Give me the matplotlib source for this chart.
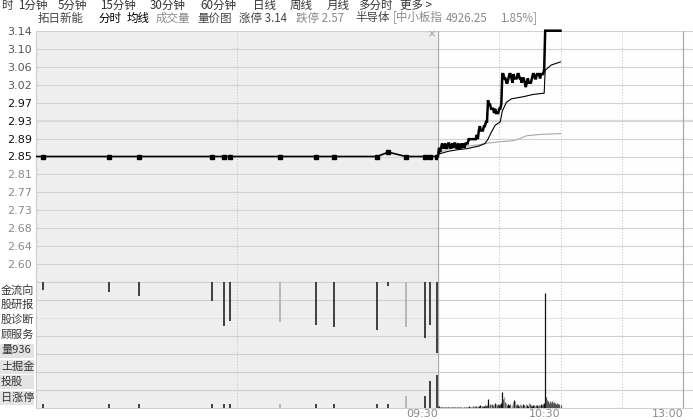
import matplotlib
matplotlib.use("Agg")
import matplotlib.pyplot as plt
from matplotlib.patches import Rectangle
import numpy as np

plt.rcParams['font.family'] = ['Noto Sans CJK SC', 'DejaVu Sans']

W, H = 693, 420  # output size in pixels

# ---------------- data ----------------
prev_close = 2.85
limit_up = 3.14
price_labels = ['3.14', '3.10', '3.06', '3.02', '2.97', '2.93', '2.89',
                '2.85', '2.81', '2.77', '2.73', '2.68', '2.64', '2.60']

# call auction 09:15-09:25 (seconds after 09:15)
auction_sec = [10, 109, 154, 263, 280, 289, 364, 418, 445, 509, 526, 552, 580, 588, 598]
auction_price = [2.85, 2.85, 2.85, 2.85, 2.85, 2.85, 2.85, 2.85, 2.85, 2.85,
                 2.86, 2.85, 2.85, 2.85, 2.85]
auction_unmatched = [7.7, 10, 14, 19, 44, 39, 40, 43, 45, 48, 4, 45, 56, 43, 71]
auction_matched = [4, 4, 4, 4, 4, 4, 4, 4, 4, 4, 4, 12, 12, 27, 33]
auction_buy = [1, 1, 1, 1, 1, 1, 0, 1, 1, 1, 1, 0, 1, 1, 1]

# continuous trading, one value per minute from 09:30
price = [
    2.85, 2.87, 2.86, 2.87, 2.88, 2.87, 2.87, 2.88, 2.87, 2.87,
    2.88, 2.88, 2.87, 2.87, 2.88, 2.87, 2.88, 2.88, 2.87, 2.87,
    2.88, 2.87, 2.87, 2.88, 2.87, 2.88, 2.87, 2.88, 2.88, 2.88,
    2.89, 2.89, 2.89, 2.89, 2.89, 2.89, 2.89, 2.89, 2.90, 2.89,
    2.91, 2.92, 2.91, 2.91, 2.91, 2.92, 2.92, 2.93, 2.93, 2.98,
    2.97, 2.97, 2.96, 2.96, 2.96, 2.95, 2.96, 2.95, 2.95, 2.95,
    2.96, 2.96, 2.97, 3.04, 3.04, 3.03, 3.03, 3.02, 3.02, 3.03,
    3.04, 3.04, 3.03, 3.02, 3.04, 3.03, 3.03, 3.03, 3.04, 3.04,
    3.03, 3.03, 3.02, 3.03, 3.03, 3.02, 3.01, 3.02, 3.03, 3.02,
    3.02, 3.02, 3.03, 3.04, 3.04, 3.03, 3.03, 3.04, 3.04, 3.04,
    3.03, 3.04, 3.04, 3.04, 3.05, 3.14, 3.14, 3.14, 3.14, 3.14,
    3.14, 3.14, 3.14, 3.14, 3.14, 3.14, 3.14, 3.14, 3.14, 3.14,
    3.14,
]
volume = [
    2, 2, 1.5, 1.5, 1, 1.5, 1, 1, 1.5, 1,
    1, 1, 1, 1, 1, 1, 1, 1, 1, 1,
    1, 1, 1, 1.5, 1, 1, 1.5, 1, 1, 1.5,
    2, 1.5, 1, 1.5, 2, 1.5, 2, 2.5, 1.5, 2,
    2, 3, 2, 2.5, 2, 2, 3, 2.5, 3, 9,
    3, 4, 3.5, 4, 3, 3.5, 5, 4, 3, 4,
    3, 4.5, 5, 16, 9, 11, 6, 5, 3, 4,
    3.5, 4, 3, 6, 7.7, 6.7, 2.7, 4, 3, 2.5,
    4, 3, 2.5, 4, 3.3, 2, 4.3, 3, 2, 5.3,
    4, 3, 2.5, 3, 2.7, 2, 3, 2.7, 2, 3,
    3, 4.3, 3.5, 4, 5, 115, 11, 8, 6.7, 5,
    6.7, 5, 7, 5.5, 6, 5.3, 4, 5, 4.3, 3.7,
    3,
]
avg_min = [0, 10, 20, 28, 40, 46, 49, 52, 56, 61, 63, 67, 72, 84, 93, 104, 105, 111, 120]
avg_price = [2.855, 2.862, 2.866, 2.868, 2.874, 2.88, 2.89, 2.905, 2.922, 2.93,
             2.955, 2.975, 2.983, 2.988, 2.993, 2.996, 3.049, 3.061, 3.068]
index_min = [0, 10, 20, 30, 40, 50, 62, 74, 80, 87, 100, 110, 120]
index_pct = [0.3, 0.6, 0.75, 0.85, 0.95, 1.1, 1.2, 1.28, 1.45, 1.68, 1.78, 1.82, 1.85]

time_labels = ['09:30', '10:30', '13:00']
time_label_min = [0, 120, 240]

menu_row1 = ['时', '1分钟', '5分钟', '15分钟', '30分钟', '60分钟', '日线', '周线', '月线', '多分时', '更多 >']
menu_row2 = ['拓日新能', '分时', '均线', '成交量', '量价图', '涨停 3.14', '跌停 2.57', '半导体',
             '[中小板指', '4926.25', '1.85%]']
side_menu = ['金流向', '股研报', '股诊断', '顾服务', '量936', '土掘金', '投股', '日涨停']


# ---------------- layout helpers ----------------
def px_axes(fig, x0, y0, x1, y1):
    # box given in pixels, y measured from the top
    return fig.add_axes([x0 / W, 1 - y1 / H, (x1 - x0) / W, (y1 - y0) / H])


fig = plt.figure(figsize=(W / 100, H / 100), dpi=100)
fig.patch.set_facecolor('white')

x_left, x_open, x_right = 36, 438, 693
y_top, y_mid, y_bot = 30.7, 282.3, 408
px_per_min = (683 - 438) / 240

ax_pp = px_axes(fig, x_left, y_top, x_open, y_mid)   # auction price
ax_tp = px_axes(fig, x_open, y_top, x_right, y_mid)  # trading price
ax_pv = px_axes(fig, x_left, y_mid, x_open, y_bot)   # auction volume
ax_tv = px_axes(fig, x_open, y_mid, x_right, y_bot)  # trading volume

step = (limit_up - prev_close) / 7
ylo, yhi = prev_close - 7 * step, limit_up
vol_top = y_bot - y_mid

for ax in (ax_pp, ax_tp, ax_pv, ax_tv):
    for s in ax.spines.values():
        s.set_visible(False)
    ax.set_xticks([])
    ax.set_yticks([])
for ax in (ax_pp, ax_pv):
    ax.set_facecolor('#EEEEEE')
    ax.set_xlim(0, 600)
    ax.spines['left'].set_visible(True)
    ax.spines['left'].set_color('#CCCCCC')
for ax in (ax_tp, ax_tv):
    ax.set_facecolor('#FEFEFE')
    ax.set_xlim(0, (x_right - x_open) / px_per_min)
for ax in (ax_pp, ax_tp):
    ax.set_ylim(ylo, yhi)
    for k in range(-7, 8):
        thick = k == 2
        ax.axhline(prev_close + k * step, color='#D8D8D8' if thick else '#D2D2D2',
                   lw=1.6 if thick else 0.8, zorder=1)
for ax in (ax_pv, ax_tv):
    ax.set_ylim(0, vol_top)
    for r in range(8):
        ax.axhline(r * 18, color='#E2E2E2' if r == 5 else '#CFCFCF', lw=0.8, zorder=1, clip_on=False)

# vertical guides
for ax in (ax_pp, ax_pv):
    ax.axvline(300, color='#BBBBBB', lw=0.7, ls=(0, (1, 2)), zorder=1)
for ax in (ax_tp, ax_tv):
    ax.axvline(0, color='#AAAAAA', lw=0.9, zorder=1)
    for m in (60, 120, 180):
        ax.axvline(m, color='#BBBBBB', lw=0.7, ls=(0, (1, 2)), zorder=1)
    ax.axvline(240, color='#AAAAAA', lw=0.9, zorder=1)

# price tick labels
ticks = prev_close + step * np.arange(7, -7, -1)
ax_pp.set_yticks(ticks, price_labels)
ax_pp.tick_params(axis='y', length=0, pad=3, labelsize=8)
for i, t in enumerate(ax_pp.get_yticklabels()):
    t.set_family('DejaVu Sans')
    t.set_color('#555555' if i < 4 else ('#111111' if i < 8 else '#8A8A8A'))

# ---------------- auction section ----------------
a_t = np.array(auction_sec)
a_p = np.array(auction_price)
ax_pp.plot(np.r_[0, a_t, 600], np.r_[a_p[0], a_p, a_p[-1]], color='black', lw=1.2, zorder=3)
ax_pp.plot(a_t, a_p, ls='none', marker='s', ms=2.6, color='black', zorder=4)
a_col = ['#111111' if b else '#A8A8A8' for b in auction_buy]
ax_pv.vlines(a_t, vol_top - np.array(auction_unmatched), vol_top, colors=a_col, lw=1.1, zorder=3)
ax_pv.vlines(a_t, 0, auction_matched, colors=a_col, lw=1.1, zorder=3)
ax_pp.text(590, yhi - step * 0.2, '×', color='#999999', fontsize=7, ha='center', va='center',
           family='DejaVu Sans')

# ---------------- trading section ----------------
minutes = np.arange(len(price))
p = np.array(price)
ax_tp.plot(index_min, prev_close * (1 + np.array(index_pct) / 100), color='#A8A8A8', lw=0.8, zorder=2)
ax_tp.plot(avg_min, avg_price, color='black', lw=0.8, zorder=3)
ax_tp.plot(minutes, p, color='black', lw=1.8, zorder=4, clip_on=False, solid_joinstyle='miter')

chg = np.diff(np.r_[p[0], p])
v_col = np.where(chg > 0, '#111111', np.where(chg < 0, '#9A9A9A', '#555555'))
ax_tv.vlines(minutes, 0, volume, colors=v_col, lw=0.9, zorder=3)

for lab, m in zip(time_labels, time_label_min):
    ax_tv.text(m, -6, lab, ha='right', va='center', fontsize=8, color='#8A8A8A',
               family='DejaVu Sans', clip_on=False)

# ---------------- header text ----------------
row1_x = [1, 18, 58, 100, 150, 200, 253, 290, 327, 358, 400]
for lab, x in zip(menu_row1, row1_x):
    fig.text(x / W, 1 - 5.5 / H, lab, ha='left', va='center', fontsize=8.3, color='#333333')

row2_x = [38, 98, 127, 156, 197, 239, 296, 355, 393, 446, 500]
row2_c = ['#444444', '#000000', '#000000', '#8A8A8A', '#444444', '#444444', '#8A8A8A',
          '#444444', '#8A8A8A', '#8A8A8A', '#8A8A8A']
for lab, x, c in zip(menu_row2, row2_x, row2_c):
    fig.text(x / W, 1 - 18 / H, lab, ha='left', va='center', fontsize=8.3, color=c)

# ---------------- left side menu ----------------
ax_menu = px_axes(fig, 0, y_mid, x_left, y_bot)
ax_menu.set_xlim(0, x_left)
ax_menu.set_ylim(y_bot, y_mid)
ax_menu.axis('off')
row_y = [290, 305, 320, 335, 350.5, 366.5, 382, 398]
for i, (lab, y) in enumerate(zip(side_menu, row_y)):
    if i >= 4:
        ax_menu.add_patch(Rectangle((0, y - 7), 34, 14, color='#E3E3E3', lw=0))
    ax_menu.text(1, y, lab, ha='left', va='center', fontsize=8, color='#333333')

fig.savefig('out.png', dpi=100)
